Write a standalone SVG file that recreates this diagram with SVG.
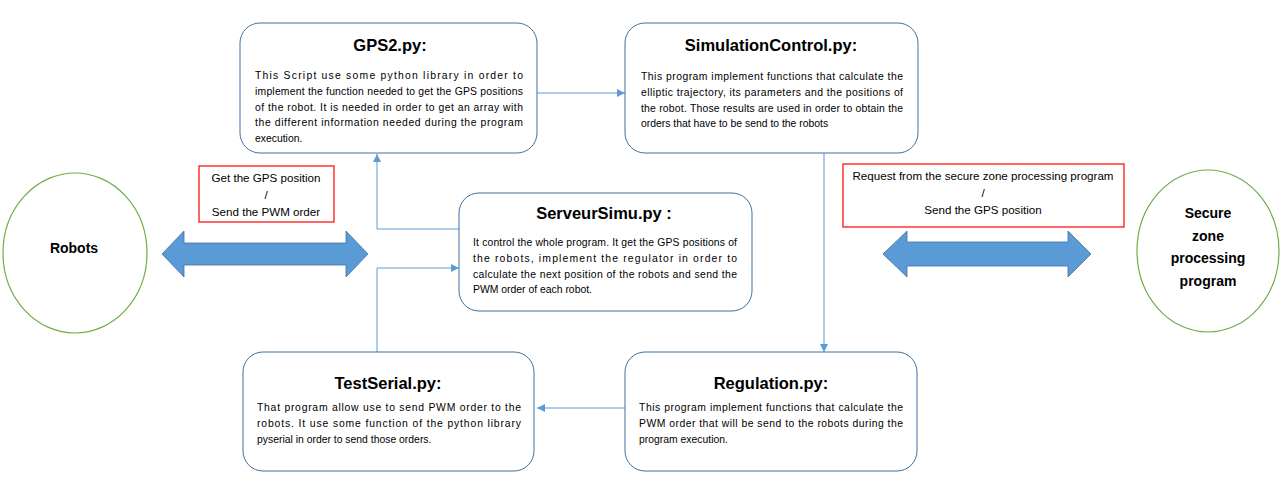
<svg xmlns="http://www.w3.org/2000/svg" width="1286" height="486" viewBox="0 0 1286 486">
<style>
.box{fill:#fff;stroke:#41719C;stroke-width:1}
.ell{fill:#fff;stroke:#70AD47;stroke-width:1.2}
.red{fill:#fff;stroke:#FF0000;stroke-width:1.2}
.title{font-family:"Liberation Sans",Arial,sans-serif;font-weight:bold;font-size:16.5px;fill:#000;text-anchor:middle}
.body{font-family:"Liberation Sans",Arial,sans-serif;font-size:10.4px;fill:#000}
.lbl{font-family:"Liberation Sans",Arial,sans-serif;font-size:11.6px;fill:#000;text-anchor:middle}
.big{font-family:"Liberation Sans",Arial,sans-serif;font-weight:bold;font-size:14px;fill:#000;text-anchor:middle}
.con{fill:none;stroke:#5B9BD5;stroke-width:1}
.dbl{fill:#5B9BD5;stroke:#41719C;stroke-width:0.8}
</style>
<defs>
<marker id="ah" viewBox="0 0 10 10" refX="10" refY="5" markerWidth="8" markerHeight="8" markerUnits="userSpaceOnUse" orient="auto">
<path d="M0,0 L10,5 L0,10 z" fill="#5B9BD5"/>
</marker>
</defs>
<rect width="1286" height="486" fill="#fff"/>

<g id="connectors">
<line class="con" x1="537" y1="93" x2="625" y2="93" marker-end="url(#ah)"/>
<line class="con" x1="824" y1="153" x2="824" y2="352" marker-end="url(#ah)"/>
<line class="con" x1="625" y1="408" x2="537" y2="408" marker-end="url(#ah)"/>
<polyline class="con" points="377,352 377,268 459,268" marker-end="url(#ah)"/>
<polyline class="con" points="459,229 377,229 377,154" marker-end="url(#ah)"/>
</g>

<g id="arrow-left">
<path class="dbl" d="M162,254 L184,231 L184,243 L346,243 L346,231 L368,254 L346,277 L346,265 L184,265 L184,277 z"/>
</g>
<g id="arrow-right">
<path class="dbl" d="M883,254 L907,231 L907,242 L1068,242 L1068,231 L1091,254 L1068,277 L1068,266 L907,266 L907,277 z"/>
</g>

<g id="robots">
<ellipse class="ell" cx="75" cy="253" rx="72" ry="80"/>
<text class="big" x="74" y="253">Robots</text>
</g>

<g id="secure">
<ellipse class="ell" cx="1208" cy="251" rx="71" ry="81"/>
<text class="big" x="1208" y="218">Secure</text>
<text class="big" x="1208" y="241">zone</text>
<text class="big" x="1208" y="263">processing</text>
<text class="big" x="1208" y="286">program</text>
</g>

<g id="label-left">
<rect class="red" x="199" y="166" width="135" height="56"/>
<text class="lbl" x="266" y="182">Get the GPS position</text>
<text class="lbl" x="266" y="199">/</text>
<text class="lbl" x="266" y="216">Send the PWM order</text>
</g>

<g id="label-right">
<rect class="red" x="843" y="164" width="281" height="63"/>
<text class="lbl" x="983" y="180">Request from the secure zone processing program</text>
<text class="lbl" x="983" y="197">/</text>
<text class="lbl" x="983" y="214">Send the GPS position</text>
</g>

<g id="gps2">
<rect class="box" x="240" y="23" width="297" height="130" rx="20" ry="20"/>
<text class="title" x="390" y="51">GPS2.py:</text>
<text class="body" x="255" y="79" textLength="268" lengthAdjust="spacing">This Script use some python library in order to</text>
<text class="body" x="255" y="95" textLength="268" lengthAdjust="spacing">implement the function needed to get the GPS positions</text>
<text class="body" x="255" y="111" textLength="268" lengthAdjust="spacing">of the robot. It is needed in order to get an array with</text>
<text class="body" x="255" y="126" textLength="268" lengthAdjust="spacing">the different information needed during the program</text>
<text class="body" x="255" y="142">execution.</text>
</g>

<g id="simulationcontrol">
<rect class="box" x="625" y="23" width="293" height="130" rx="20" ry="20"/>
<text class="title" x="771" y="51">SimulationControl.py:</text>
<text class="body" x="641" y="80" textLength="262" lengthAdjust="spacing">This program implement functions that calculate the</text>
<text class="body" x="641" y="96" textLength="262" lengthAdjust="spacing">elliptic trajectory, its parameters and the positions of</text>
<text class="body" x="641" y="112" textLength="262" lengthAdjust="spacing">the robot. Those results are used in order to obtain the</text>
<text class="body" x="641" y="127">orders that have to be send to the robots</text>
</g>

<g id="serveursimu">
<rect class="box" x="459" y="193" width="293" height="118" rx="20" ry="20"/>
<text class="title" x="604" y="219">ServeurSimu.py :</text>
<text class="body" x="473" y="246" textLength="264" lengthAdjust="spacing">It control the whole program. It get the GPS positions of</text>
<text class="body" x="473" y="262" textLength="264" lengthAdjust="spacing">the robots, implement the regulator in order to</text>
<text class="body" x="473" y="278" textLength="264" lengthAdjust="spacing">calculate the next position of the robots and send the</text>
<text class="body" x="473" y="293">PWM order of each robot.</text>
</g>

<g id="testserial">
<rect class="box" x="243" y="352" width="291" height="119" rx="20" ry="20"/>
<text class="title" x="388" y="389">TestSerial.py:</text>
<text class="body" x="257" y="411" textLength="264" lengthAdjust="spacing">That program allow use to send PWM order to the</text>
<text class="body" x="257" y="427" textLength="264" lengthAdjust="spacing">robots. It use some function of the python library</text>
<text class="body" x="257" y="443">pyserial in order to send those orders.</text>
</g>

<g id="regulation">
<rect class="box" x="625" y="352" width="292" height="119" rx="20" ry="20"/>
<text class="title" x="771" y="389">Regulation.py:</text>
<text class="body" x="639" y="411" textLength="264" lengthAdjust="spacing">This program implement functions that calculate the</text>
<text class="body" x="639" y="427" textLength="264" lengthAdjust="spacing">PWM order that will be send to the robots during the</text>
<text class="body" x="639" y="443">program execution.</text>
</g>
</svg>
